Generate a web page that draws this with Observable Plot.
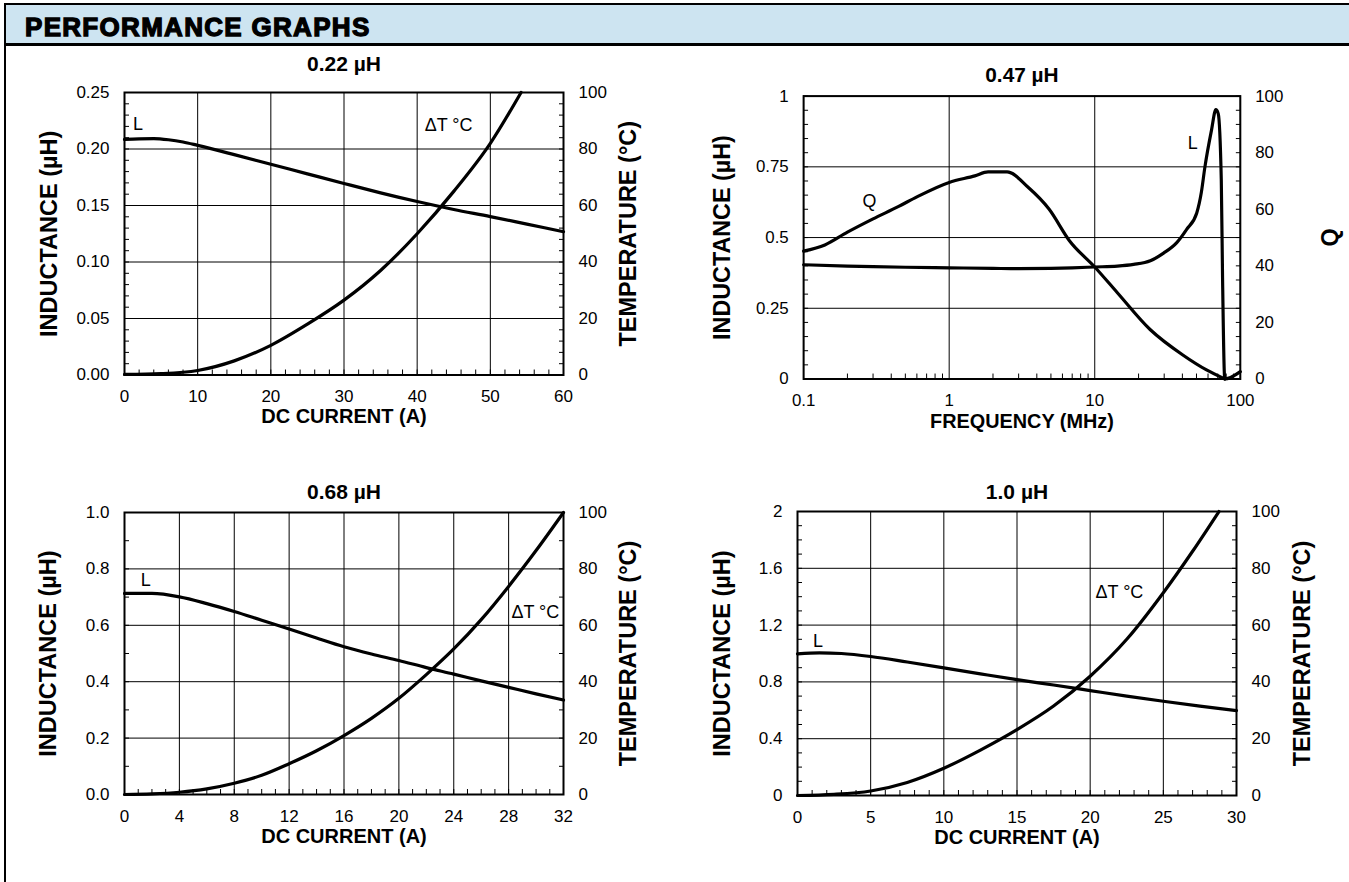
<!DOCTYPE html>
<html><head><meta charset="utf-8">
<script src="https://cdn.jsdelivr.net/npm/d3@7"></script>
<script src="https://cdn.jsdelivr.net/npm/@observablehq/plot@0.6"></script>
<style>
html,body{margin:0;padding:0;background:#fff;}
body{width:1349px;height:882px;position:relative;overflow:hidden;font-family:"Liberation Sans",Arial,sans-serif;}
#hdr{position:absolute;left:4px;top:3px;width:1345px;height:38px;background:#cde4f1;border-top:2px solid #000;border-bottom:3px solid #000;}
#hdr div{position:absolute;left:21px;top:9px;font-family:"Liberation Sans",Arial,sans-serif;font-weight:bold;font-size:26px;line-height:26px;letter-spacing:1.3px;-webkit-text-stroke:1.3px #000;color:#000;white-space:nowrap;}
#lb{position:absolute;left:4px;top:3px;width:2px;height:879px;background:#000;}
.chart{position:absolute;}
</style></head>
<body>
<div id="hdr"><div>PERFORMANCE GRAPHS</div></div>
<div id="lb"></div>
<div id="c1" class="chart"></div>
<div id="c2" class="chart"></div>
<div id="c3" class="chart"></div>
<div id="c4" class="chart"></div>
<script>
// ---------- Chart 1: 0.22 µH (DC current A vs inductance µH / temperature °C)
const l022 = [[0,0.2085],[2,0.209],[4,0.2092],[6,0.2082],[8,0.2062],[10,0.2032],[15,0.195],[20,0.1865],[25,0.178],[30,0.1695],[35,0.1612],[40,0.1535],[45,0.1465],[50,0.1402],[55,0.1335],[60,0.1268]];
const t022 = [[0,0.2],[5,0.5],[10,1.6],[15,5],[20,10.5],[25,18],[30,26.5],[35,37],[40,50],[45,65],[50,82],[54.2,100]];
const x022 = [0,10,20,30,40,50,60];
const x022Labels = ["0","10","20","30","40","50","60"];
const y022 = [0,0.05,0.10,0.15,0.20,0.25];
const y022Labels = ["0.00","0.05","0.10","0.15","0.20","0.25"];
const temp022 = [0,20,40,60,80,100];

// ---------- Chart 2: 0.47 µH (frequency MHz vs inductance µH / Q)
const l047 = [[0.1,0.404],[0.2,0.399],[0.3,0.397],[0.5,0.395],[1,0.393],[2,0.391],[3,0.390],[5,0.391],[7,0.393],[10,0.396],[14.3,0.399],[18.5,0.405],[24.1,0.418],[29.7,0.445],[36.6,0.482],[42.8,0.529],[50.2,0.587],[54,0.66],[57.1,0.749],[63.4,0.88],[67.9,0.952],[70.5,0.938],[74,0.704],[75.5,0.36],[78.2,0],[100,0.026]];
const q047 = [[0.1,45.2],[0.14,47.4],[0.2,51.9],[0.3,56.6],[0.45,61],[0.6,64.4],[1,69.5],[1.5,71.8],[1.85,73.2],[2.5,73.2],[3.5,67.7],[4.85,60.1],[6.7,48.9],[10,39.6],[14.3,30.5],[24,17.5],[40.5,8.4],[58.6,3.2],[78.2,0]];
const x047 = [0.1,1,10,100];
const x047Labels = ["0.1","1","10","100"];
const x047Minor = [0.2,0.3,0.4,0.5,0.6,0.7,0.8,0.9,2,3,4,5,6,7,8,9,20,30,40,50,60,70,80,90];
const y047 = [0,0.25,0.5,0.75,1];
const y047Labels = ["0","0.25","0.5","0.75","1"];
const qTicks = [0,20,40,60,80,100];

// ---------- Chart 3: 0.68 µH
const l068 = [[0,0.713],[2,0.713],[4,0.701],[6,0.677],[8,0.649],[10,0.618],[12,0.587],[14,0.555],[16,0.524],[18,0.498],[20,0.475],[22,0.45],[24,0.427],[26,0.403],[28,0.38],[30,0.357],[32,0.335]];
const t068 = [[0,0],[2,0.2],[4,0.8],[6,2],[8,4],[10,6.8],[12,10.9],[14,15.5],[16,20.9],[18,27],[20,34.1],[22,42.5],[24,51.6],[26,62],[28,73.8],[30,86.5],[32,100]];
const x068 = [0,4,8,12,16,20,24,28,32];
const x068Labels = ["0","4","8","12","16","20","24","28","32"];
const y068 = [0,0.2,0.4,0.6,0.8,1.0];
const y068Labels = ["0.0","0.2","0.4","0.6","0.8","1.0"];
const temp068 = [0,20,40,60,80,100];

// ---------- Chart 4: 1.0 µH
const l100 = [[0,0.998],[1.5,1.005],[3,1.0],[5,0.979],[7.5,0.94],[10,0.899],[12.5,0.857],[15,0.816],[17.5,0.778],[20,0.739],[22.5,0.7],[25,0.664],[27.5,0.63],[30,0.598]];
const t100 = [[0,0],[2.5,0.4],[5,1.6],[7.5,4.6],[10,9.6],[12.5,16],[15,23.2],[17.5,31.5],[20,42],[22.5,55],[25,71.4],[27,86],[28.8,100]];
const x100 = [0,5,10,15,20,25,30];
const x100Labels = ["0","5","10","15","20","25","30"];
const y100 = [0,0.4,0.8,1.2,1.6,2];
const y100Labels = ["0","0.4","0.8","1.2","1.6","2"];
const temp100 = [0,20,40,60,80,100];

const notes022 = [{x:1.85,y:0.222,text:"L"},{x:44.3,y:0.2208,text:"ΔT °C"}];
const notes047 = [{x:0.283,y:0.63,text:"Q"},{x:47.1,y:0.833,text:"L"}];
const notes068 = [{x:1.55,y:0.759,text:"L"},{x:29.95,y:0.646,text:"ΔT °C"}];
const notes100 = [{x:1.4,y:1.087,text:"L"},{x:22.0,y:1.43,text:"ΔT °C"}];

const FONT = "'Liberation Sans', Arial, sans-serif";
const K = "#000";
const TICK_FS = 17;

function chart(el, c) {
  const ML = 120, MR = 110, MT = 50, MB = 90;
  const w = c.right - c.left, h = c.bottom - c.top;
  const yMax = c.yDomain[1];
  const rMax = c.rMax;
  const toY = v => v * yMax / rMax;
  const xLab = new Map(c.xTicks.map((d, i) => [d, c.xLabels[i]]));
  const yLab = new Map(c.yTicks.map((d, i) => [d, c.yLabels[i]]));
  const rPos = c.rTicks.map(toY);
  const rLab = new Map(rPos.map((d, i) => [d, String(c.rTicks[i])]));
  const marks = [
    Plot.gridX(c.xTicks, {stroke: K, strokeOpacity: 1, strokeWidth: 1}),
    Plot.gridY(c.yTicks, {stroke: K, strokeOpacity: 1, strokeWidth: 1}),
    Plot.axisX(c.xMinor, {anchor: "bottom", tickSize: -5, tickFormat: () => "", label: null, stroke: K}),
    Plot.axisY(c.yMinor, {anchor: "left", tickSize: -5, tickFormat: () => "", label: null, stroke: K}),
    Plot.axisY(c.yMinor, {anchor: "right", tickSize: -5, tickFormat: () => "", label: null, stroke: K}),
    Plot.axisX(c.xTicks, {anchor: "bottom", tickSize: 0, tickPadding: 15, fontSize: TICK_FS, fill: K,
      tickFormat: d => xLab.get(d), label: null}),
    Plot.axisY(c.yTicks, {anchor: "left", tickSize: 0, tickPadding: 15, fontSize: TICK_FS, fill: K,
      tickFormat: d => yLab.get(d), label: null}),
    Plot.axisY(rPos, {anchor: "right", tickSize: 0, tickPadding: 15, fontSize: TICK_FS, fill: K,
      tickFormat: d => rLab.get(d), label: null}),
    Plot.frame({stroke: K, strokeWidth: 2}),
    Plot.line(c.l, {x: d => d[0], y: d => d[1], stroke: K, strokeWidth: 3.2, curve: "monotone-x"}),
    Plot.line(c.r, {x: d => d[0], y: d => toY(d[1]), stroke: K, strokeWidth: 3.2, curve: "monotone-x"}),
    Plot.text(c.notes, {x: "x", y: "y", text: "text", fontSize: 18, fill: K}),
    Plot.text([c.title], {frameAnchor: "top", textAnchor: "middle", lineAnchor: "bottom", dy: -c.titleGap, fontSize: 21, fontWeight: "bold", fill: K}),
    Plot.text([c.xTitle], {frameAnchor: "bottom", textAnchor: "middle", lineAnchor: "middle", dy: c.xTitleGap, fontSize: 20, fontWeight: "bold", fill: K}),
    Plot.text([c.yTitle], {frameAnchor: "left", textAnchor: "middle", lineAnchor: "middle", rotate: -90, dx: -c.yTitleGap, fontSize: 23.5, fontWeight: "bold", fill: K}),
    Plot.text([c.rTitle], {frameAnchor: "right", textAnchor: "middle", lineAnchor: "middle", rotate: -90, dx: c.rTitleGap, fontSize: 23.5, fontWeight: "bold", fill: K})
  ];
  const svg = Plot.plot({
    width: w + ML + MR, height: h + MT + MB,
    marginLeft: ML, marginRight: MR, marginTop: MT, marginBottom: MB,
    x: {type: c.xType || "linear", domain: c.xDomain},
    y: {domain: c.yDomain},
    style: {fontFamily: FONT, fontSize: TICK_FS + "px", background: "transparent", overflow: "visible", color: K},
    marks
  });
  const box = document.getElementById(el);
  box.style.left = (c.left - ML) + "px";
  box.style.top = (c.top - MT) + "px";
  box.appendChild(svg);
}

chart("c1", {left: 124, right: 563, top: 92, bottom: 374.5,
  xDomain: [0, 60], yDomain: [0, 0.25], rMax: 100,
  xTicks: x022, xLabels: x022Labels, xMinor: d3.range(0, 61, 2),
  yTicks: y022, yLabels: y022Labels, yMinor: d3.range(0, 0.2501, 0.01),
  rTicks: temp022, l: l022, r: t022, notes: notes022,
  title: "0.22 µH", titleGap: 22, xTitle: "DC CURRENT (A)", xTitleGap: 42,
  yTitle: "INDUCTANCE (µH)", yTitleGap: 75, rTitle: "TEMPERATURE (°C)", rTitleGap: 65});

chart("c2", {left: 804, right: 1244, top: 96, bottom: 381,
  xType: "log", xDomain: [0.1, 100], yDomain: [0, 1], rMax: 100,
  xTicks: x047, xLabels: x047Labels, xMinor: x047Minor,
  yTicks: y047, yLabels: y047Labels, yMinor: d3.range(0, 1.001, 0.05),
  rTicks: qTicks, l: l047, r: q047, notes: notes047,
  title: "0.47 µH", titleGap: 14, xTitle: "FREQUENCY (MHz)", xTitleGap: 43,
  yTitle: "INDUCTANCE (µH)", yTitleGap: 82, rTitle: "Q", rTitleGap: 91});

chart("c3", {left: 124, right: 563, top: 512, bottom: 794,
  xDomain: [0, 32], yDomain: [0, 1], rMax: 100,
  xTicks: x068, xLabels: x068Labels, xMinor: d3.range(0, 33, 1),
  yTicks: y068, yLabels: y068Labels, yMinor: d3.range(0, 1.001, 0.1),
  rTicks: temp068, l: l068, r: t068, notes: notes068,
  title: "0.68 µH", titleGap: 14, xTitle: "DC CURRENT (A)", xTitleGap: 42,
  yTitle: "INDUCTANCE (µH)", yTitleGap: 76, rTitle: "TEMPERATURE (°C)", rTitleGap: 65});

chart("c4", {left: 797, right: 1236, top: 511, bottom: 795,
  xDomain: [0, 30], yDomain: [0, 2], rMax: 100,
  xTicks: x100, xLabels: x100Labels, xMinor: d3.range(0, 31, 1),
  yTicks: y100, yLabels: y100Labels, yMinor: d3.range(0, 2.001, 0.1),
  rTicks: temp100, l: l100, r: t100, notes: notes100,
  title: "1.0 µH", titleGap: 13, xTitle: "DC CURRENT (A)", xTitleGap: 42,
  yTitle: "INDUCTANCE (µH)", yTitleGap: 75, rTitle: "TEMPERATURE (°C)", rTitleGap: 66});
</script>
</body></html>
